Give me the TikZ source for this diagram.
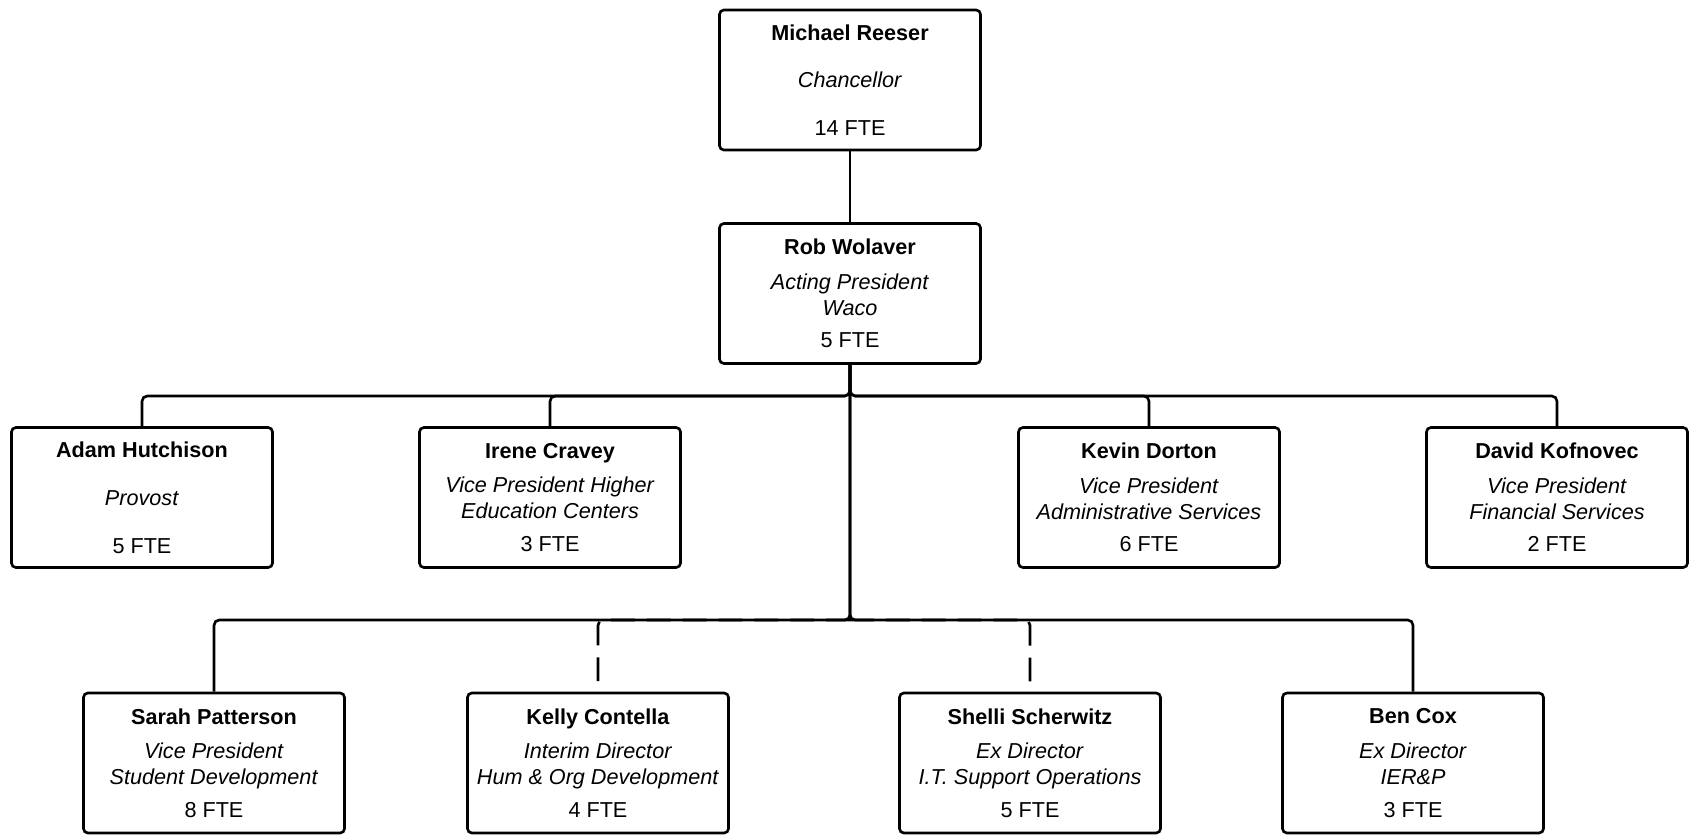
\documentclass[tikz,border=0pt]{standalone}
\usepackage{fontspec}
\setmainfont{Liberation Sans}
\usepackage{tikz}
\usetikzlibrary{positioning}

\begin{document}
\begin{tikzpicture}[
    person/.style={draw, fill=white, line width=1.5pt, rounded corners=2.5pt, minimum width=5.22cm, minimum height=2.8cm, align=center, font=\fontsize{12.3}{14.7}\selectfont},
    link/.style={line width=1.5pt, rounded corners=3pt},
    dashlink/.style={link, dash pattern=on 13.6pt off 6.8pt}
]
    \useasboundingbox (0,0) rectangle (33.8,-16.74);

    % Chancellor
    \node[person] (mr) at (17, -1.6) {\textbf{Michael Reeser}\\[12.5pt]\textit{Chancellor}\\[12.5pt]14 FTE};

    % President
    \node[person] (rw) at (17, -5.87) {\textbf{Rob Wolaver}\\[5pt]\textit{Acting President}\\\textit{Waco}\\[4pt]5 FTE};

    % Vice presidents
    \node[person] (ah) at (2.84, -9.95) {\textbf{Adam Hutchison}\\[12.5pt]\textit{Provost}\\[12.5pt]5 FTE};
    \node[person] (ic) at (11.0, -9.95) {\textbf{Irene Cravey}\\[5pt]\textit{Vice President Higher}\\\textit{Education Centers}\\[4pt]3 FTE};
    \node[person] (kd) at (22.98, -9.95) {\textbf{Kevin Dorton}\\[5pt]\textit{Vice President}\\\textit{Administrative Services}\\[4pt]6 FTE};
    \node[person] (dk) at (31.14, -9.95) {\textbf{David Kofnovec}\\[5pt]\textit{Vice President}\\\textit{Financial Services}\\[4pt]2 FTE};

    % Directors
    \node[person] (sp) at (4.28, -15.26) {\textbf{Sarah Patterson}\\[5pt]\textit{Vice President}\\\textit{Student Development}\\[4pt]8 FTE};
    \node[person] (kc) at (11.96, -15.26) {\textbf{Kelly Contella}\\[5pt]\textit{Interim Director}\\\textit{Hum \& Org Development}\\[4pt]4 FTE};
    \node[person] (ss) at (20.6, -15.26) {\textbf{Shelli Scherwitz}\\[5pt]\textit{Ex Director}\\\textit{I.T. Support Operations}\\[4pt]5 FTE};
    \node[person] (bc) at (28.26, -15.26) {\textbf{Ben Cox}\\[5pt]\textit{Ex Director}\\\textit{IER\&P}\\[4pt]3 FTE};

    % Bus points
    \coordinate (bus1) at (17, -7.92);
    \coordinate (bus2) at (17, -12.4);

    % Connections
    \draw[link] (mr) -- (rw);

    \draw[link] (rw.south) -- (bus1) -| (ah.north);
    \draw[link] (rw.south) -- (bus1) -| (ic.north);
    \draw[link] (rw.south) -- (bus1) -| (kd.north);
    \draw[link] (rw.south) -- (bus1) -| (dk.north);

    \draw[link] (rw.south) -- (bus2) -| (sp.north);
    \draw[link] (rw.south) -- (bus2) -| (bc.north);
    \draw[dashlink] (bus2) -| (kc.north);
    \draw[dashlink] (bus2) -| (ss.north);

\end{tikzpicture}
\end{document}
